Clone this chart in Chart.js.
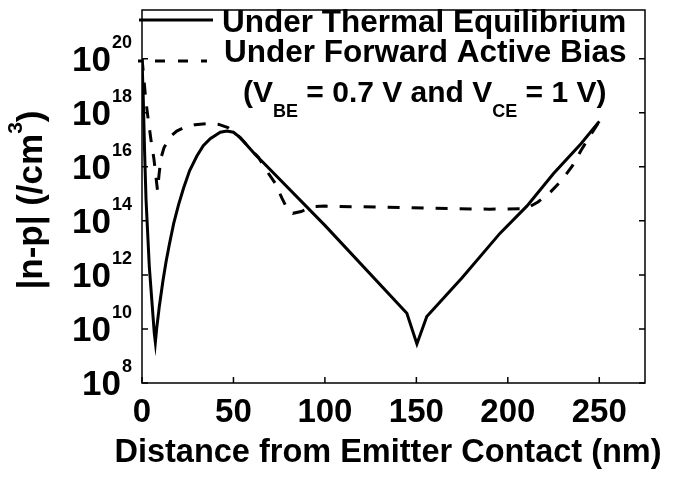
<!DOCTYPE html>
<html>
<head>
<meta charset="utf-8">
<script src="https://cdn.jsdelivr.net/npm/chart.js@4.4.1/dist/chart.umd.min.js"></script>
<style>
  html, body { margin: 0; padding: 0; background: #fff; }
</style>
</head>
<body>
<canvas id="chart" width="685" height="479"></canvas>
<script>
// |n-p| vs distance (nm, /cm^3)
const thermalX = [0, 0.7, 1.4, 2.2, 4, 6.7, 7.3, 8, 9.5, 11.5, 13.2, 15, 17.3, 20, 22.7, 26, 30, 33.5, 37.3, 42.8, 46.4, 50, 53.7, 58, 62, 66.4, 100, 144.8, 150.3, 155.7, 175, 195.8, 210.4, 225, 240, 250];
const thermalY = [1e20, 3.2e18, 4.0e16, 6.3e14, 2.0e12, 7.1e9, 3.2e9, 1.0e10, 7.1e10, 6.3e11, 3.2e12, 1.4e13, 7.9e13, 4.0e14, 1.6e15, 7.1e15, 2.5e16, 6.0e16, 1.1e17, 1.9e17, 2.1e17, 1.9e17, 1.2e17, 5.6e16, 2.8e16, 1.4e16, 6.8e13, 3.8e10, 2.8e9, 2.9e10, 7.9e11, 3.5e13, 3.5e14, 5.6e15, 7.1e16, 4.8e17];

const biasX = [0, 1, 2, 3.5, 5, 6.5, 7.5, 8.5, 9.3, 10.3, 12, 15.5, 19, 23, 29, 36, 42, 47, 51, 55, 59, 63.7, 68.3, 72.8, 76.5, 79.8, 82.5, 87, 93.8, 100, 130, 160, 190, 210, 216.5, 223, 229.5, 235, 240, 245, 250];
const biasY = [1e20, 2.0e19, 3.2e18, 5.0e17, 8.9e16, 2.0e16, 5.0e15, 1.3e15, 5.0e15, 2.0e16, 5.0e16, 1.3e17, 2.1e17, 2.8e17, 3.6e17, 4.0e17, 3.7e17, 2.8e17, 1.8e17, 9.5e16, 4.8e16, 2.2e16, 6.8e15, 2.5e15, 6.9e14, 2.5e14, 1.9e14, 2.2e14, 3.4e14, 3.5e14, 3.2e14, 2.9e14, 2.7e14, 2.8e14, 5.0e14, 1.1e15, 3.2e15, 1.0e16, 4.0e16, 1.4e17, 4.8e17];

const xTicks = [0, 50, 100, 150, 200, 250];
const yExponents = [8, 10, 12, 14, 16, 18, 20];
const legendLabels = ['Under Thermal Equilibrium', 'Under Forward Active Bias'];

const FONT = '"Liberation Sans", Arial, sans-serif';

function font(size) {
    return 'bold ' + size + 'px ' + FONT;
}

// draws a list of text runs (for sub/superscripts) starting at x
function drawRuns(ctx, runs, x, y) {
    runs.forEach(r => {
        ctx.font = font(r.size);
        ctx.fillText(r.text, x, y + (r.dy || 0));
        x += ctx.measureText(r.text).width;
    });
}

function runsWidth(ctx, runs) {
    return runs.reduce((w, r) => {
        ctx.font = font(r.size);
        return w + ctx.measureText(r.text).width;
    }, 0);
}

const decorations = {
    id: 'decorations',
    afterDraw(chart) {
        const ctx = chart.ctx;
        const area = chart.chartArea;
        const xs = chart.scales.x;
        const ys = chart.scales.y;
        ctx.save();
        ctx.fillStyle = '#000';
        ctx.strokeStyle = '#000';

        // box
        ctx.lineWidth = 1.5;
        ctx.strokeRect(area.left, area.top, area.right - area.left, area.bottom - area.top);

        // inward ticks
        ctx.beginPath();
        xTicks.forEach(v => {
            const px = xs.getPixelForValue(v);
            ctx.moveTo(px, area.bottom);
            ctx.lineTo(px, area.bottom - 6);
        });
        yExponents.forEach(e => {
            const py = ys.getPixelForValue(Math.pow(10, e));
            ctx.moveTo(area.left, py);
            ctx.lineTo(area.left + 6, py);
            ctx.moveTo(area.right, py);
            ctx.lineTo(area.right - 6, py);
        });
        ctx.stroke();

        // y tick labels: 10^n
        ctx.textBaseline = 'alphabetic';
        ctx.textAlign = 'left';
        yExponents.forEach(e => {
            const py = ys.getPixelForValue(Math.pow(10, e));
            ctx.font = font(18);
            const ew = ctx.measureText(String(e)).width;
            ctx.fillText(String(e), 132 - ew, py - 11);
            ctx.font = font(35);
            const bw = ctx.measureText('10').width;
            ctx.fillText('10', 132 - ew - bw - 1, py + 12);
        });

        // x tick labels
        ctx.textAlign = 'center';
        ctx.font = font(33);
        xTicks.forEach(v => {
            ctx.fillText(String(v), xs.getPixelForValue(v), 422);
        });

        // x title
        ctx.font = font(32.5);
        ctx.fillText('Distance from Emitter Contact (nm)', 388, 462);

        // y title (rotated)
        ctx.textAlign = 'left';
        const yTitle = [
            { text: '|n-p| (/cm', size: 35 },
            { text: '3', size: 21, dy: -20 },
            { text: ')', size: 35 }
        ];
        ctx.save();
        ctx.translate(42, 200);
        ctx.rotate(-Math.PI / 2);
        drawRuns(ctx, yTitle, -runsWidth(ctx, yTitle) / 2, 0);
        ctx.restore();

        // legend
        ctx.lineWidth = 3;
        ctx.beginPath();
        ctx.moveTo(139, 20);
        ctx.lineTo(213, 20);
        ctx.stroke();
        ctx.setLineDash([10, 13]);
        ctx.lineDashOffset = 6;
        ctx.beginPath();
        ctx.moveTo(138, 61);
        ctx.lineTo(207, 61);
        ctx.stroke();
        ctx.setLineDash([]);

        ctx.font = font(31.5);
        ctx.fillText(legendLabels[0], 222, 32);
        ctx.fillText(legendLabels[1], 224, 62);
        drawRuns(ctx, [
            { text: '(V', size: 30 },
            { text: 'BE', size: 18, dy: 15 },
            { text: ' = 0.7 V and V', size: 30 },
            { text: 'CE', size: 18, dy: 15 },
            { text: ' = 1 V)', size: 30 }
        ], 243, 102);

        ctx.restore();
    }
};

const toPoints = (xs, ys) => xs.map((x, i) => ({ x: x, y: ys[i] }));

new Chart(document.getElementById('chart').getContext('2d'), {
    type: 'line',
    data: {
        datasets: [
            {
                label: legendLabels[0],
                data: toPoints(thermalX, thermalY),
                borderColor: '#000',
                borderWidth: 3,
                pointRadius: 0,
                tension: 0,
                fill: false
            },
            {
                label: legendLabels[1],
                data: toPoints(biasX, biasY),
                borderColor: '#000',
                borderWidth: 3,
                borderDash: [12, 12],
                pointRadius: 0,
                tension: 0,
                fill: false
            }
        ]
    },
    options: {
        responsive: false,
        animation: false,
        devicePixelRatio: 1,
        layout: { padding: { left: 134, top: 10, right: 40, bottom: 88 } },
        plugins: { legend: { display: false }, tooltip: { enabled: false } },
        scales: {
            x: {
                type: 'linear', min: 0, max: 275,
                ticks: { display: false },
                grid: { display: false },
                border: { display: false }
            },
            y: {
                type: 'logarithmic', min: 1e8, max: Math.pow(10, 21.8),
                ticks: { display: false },
                grid: { display: false },
                border: { display: false }
            }
        }
    },
    plugins: [decorations]
});
</script>
</body>
</html>
